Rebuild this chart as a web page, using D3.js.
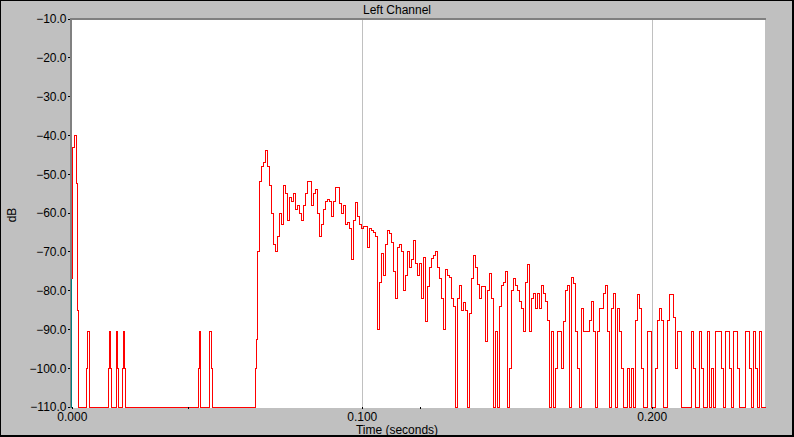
<!DOCTYPE html>
<html><head><meta charset="utf-8">
<script src="https://cdn.jsdelivr.net/npm/d3@7"></script>
<style>
html,body{margin:0;padding:0;background:#c0c0c0;}
svg{display:block;}
text{font-family:Arial,"Liberation Sans",sans-serif;font-size:12px;fill:#000;}
</style>
</head><body>
<svg id="chart" width="794" height="437"></svg>
<script>
// ---------- data ----------
const chartTitle = "Left Channel";
const xAxisTitle = "Time (seconds)";
const yAxisTitle = "dB";
const yTickValues = [-110, -100, -90, -80, -70, -60, -50, -40, -30, -20, -10];
const xTickValues = [0, 0.1, 0.2];
const xMinorTickValues = [0.04, 0.12];
const xGridValues = [0.1, 0.2];

// pre-arrival part: step breakpoints (ms, dB)
const onsetMs = [0, 0.14, 0.59, 1.28, 1.62, 1.72, 2.07,
  4.79, 5.07, 6.0,
  12.55, 12.76, 13.24, 13.45,
  15.41, 15.76, 16.0,
  17.38, 17.59, 18.07, 18.28,
  43.69, 44.03, 44.38,
  47.24, 47.48, 48.07, 48.41,
  63.1, 63.45];
const onsetDb = [-76.8, -43, -40.1, -43.6, -52.3, -85.2, -110,
  -100, -90.5, -110,
  -100, -90.5, -100, -110,
  -90.5, -100, -110,
  -100, -90.5, -100, -110,
  -100, -90.5, -110,
  -100, -90.5, -100, -110,
  -100, -92.5];

// arrival and decay: level per analysis frame
const frameStartMs = 63.8;
const frameMs = 0.69;
const frameDb = [
  -70, -52, -48, -47, -44, -48, -53, -60, -68, -70,
  -66, -60, -63, -53, -55, -62, -56, -57, -55, -59,
  -58, -60, -62, -58, -55, -52, -52, -58, -55, -54,
  -60, -66, -63, -59, -57, -56.5, -57, -61, -57, -53.5,
  -53.5, -57.5, -60, -58, -63, -62.5, -64, -72, -62, -57.3,
  -61, -63, -64, -63.5, -63.5, -69, -64, -64.5, -65, -66,
  -90, -78, -70.5, -76, -68, -64.5, -65.2, -67.5, -75, -82,
  -69, -68, -70, -80, -76, -70, -74, -72, -67, -73,
  -76, -73, -82, -71.5, -88, -79, -74, -71.6, -71, -70,
  -74, -77, -82, -90, -74.5, -76, -76.5, -82, -84, -110,
  -82, -78.6, -85, -83, -85, -110, -86, -77, -71, -74,
  -78.5, -82, -79, -79, -93, -80, -75.5, -82, -110, -90.5,
  -110, -84, -78.6, -78, -75.2, -110, -100, -80, -77, -78.6,
  -80, -82.9, -84.6, -90.5, -78, -73.4, -90.5, -82, -80.7, -84.6,
  -80.7, -84.6, -78.6, -80.7, -82.9, -87.6, -110, -90.5, -110, -100,
  -90.5, -90.5, -100, -88, -80, -78.6, -110, -76.5, -78.2, -90.5,
  -100, -110, -84.6, -90.5, -90.5, -90.5, -87.6, -82.9, -90.5, -110,
  -90.5, -84.6, -84.6, -80.7, -78.6, -90.5, -110, -84.6, -80.7, -110,
  -84.6, -90.5, -100, -110, -110, -100, -110, -100, -110, -87.6,
  -81, -84.7, -100, -110, -110, -90.5, -90.5, -110, -110, -100,
  -87.7, -84.7, -87.7, -110, -110, -87.7, -81, -81, -87, -100,
  -90.5, -90.5, -110, -110, -110, -110, -110, -90.5, -100, -110,
  -110, -90.5, -100, -110, -110, -90.5, -110, -100, -110, -90.5,
  -90.5, -90.5, -100, -110, -90.5, -90.5, -100, -110, -90.5, -90.5,
  -100, -110, -110, -110, -90.5, -90.5, -100, -110, -90.5, -100,
  -110, -90.5, -110, -110
];

// other channel trace visible at the left edge
const otherChannelMs = [0, 0];
const otherChannelDb = [-76.8, -110];

// ---------- layout ----------
const W = 794, H = 437;
const plot = {left: 72.3, right: 765, top: 19, bottom: 407};
const xMax = 0.2389;
const RED = "rgb(255,0,0)";

const svg = d3.select("#chart");
const x = d3.scaleLinear().domain([0, xMax]).range([plot.left, plot.right]);
const y = d3.scaleLinear().domain([-110, -10]).range([plot.bottom, plot.top]);
const px = v => Math.floor(x(v)) + 0.5;
const py = v => Math.floor(y(v)) + 0.5;

svg.append("rect").attr("x", 0).attr("y", 0).attr("width", W).attr("height", H).attr("fill", "#c0c0c0");

// plot background
svg.append("rect")
  .attr("x", 72).attr("y", 20)
  .attr("width", 765 - 72).attr("height", 408 - 20)
  .attr("fill", "#ffffff");

// gridlines
svg.selectAll("line.hgrid").data(yTickValues.filter(v => v > -10))
  .join("line").attr("class", "hgrid")
  .attr("shape-rendering", "crispEdges")
  .attr("x1", 72).attr("x2", 765)
  .attr("y1", d => py(d)).attr("y2", d => py(d))
  .attr("stroke", "#c0c0c0").attr("stroke-width", 1);

svg.selectAll("line.vgrid").data(xGridValues)
  .join("line").attr("class", "vgrid")
  .attr("shape-rendering", "crispEdges")
  .attr("x1", d => px(d)).attr("x2", d => px(d))
  .attr("y1", 20).attr("y2", 408)
  .attr("stroke", "#c0c0c0").attr("stroke-width", 1);

// borders (sunken look)
svg.append("rect").attr("x", 70).attr("y", 18).attr("width", 766 - 70).attr("height", 2).attr("fill", "#808080");
svg.append("rect").attr("x", 70).attr("y", 18).attr("width", 2).attr("height", 408 - 18).attr("fill", "#808080");

// other channel
svg.append("line")
  .attr("shape-rendering", "crispEdges")
  .attr("x1", px(otherChannelMs[0] / 1000) - 1).attr("x2", px(otherChannelMs[1] / 1000) - 1)
  .attr("y1", py(otherChannelDb[0])).attr("y2", py(otherChannelDb[1]))
  .attr("stroke", "#008080").attr("stroke-width", 1);

// build series
const points = [];
onsetMs.forEach((t, i) => points.push([t / 1000, onsetDb[i]]));
frameDb.forEach((v, i) => points.push([(frameStartMs + i * frameMs) / 1000, v]));
points.push([xMax, frameDb[frameDb.length - 1]]);

// step segments: horizontal hold then vertical jump
const segments = [];
for (let i = 0; i < points.length - 1; i++) {
  const a = points[i], b = points[i + 1];
  segments.push({x1: a[0], y1: a[1], x2: b[0], y2: a[1]});
  if (b[1] !== a[1]) segments.push({x1: b[0], y1: a[1], x2: b[0], y2: b[1]});
}

svg.append("g").attr("class", "trace")
  .selectAll("line").data(segments).join("line")
  .attr("shape-rendering", "crispEdges")
  .attr("x1", d => px(d.x1)).attr("x2", d => px(d.x2))
  .attr("y1", d => py(d.y1)).attr("y2", d => py(d.y2))
  .attr("stroke", RED).attr("stroke-width", 1)
  .attr("stroke-linecap", "square");

// y axis ticks & labels
svg.selectAll("line.ytick").data(yTickValues).join("line").attr("class", "ytick")
  .attr("shape-rendering", "crispEdges")
  .attr("x1", 68).attr("x2", 70)
  .attr("y1", d => py(d)).attr("y2", d => py(d))
  .attr("stroke", "#000");
svg.selectAll("text.ylab").data(yTickValues).join("text").attr("class", "ylab")
  .attr("x", 66.5).attr("y", d => y(d) + 4.3)
  .attr("text-anchor", "end")
  .text(d => d3.format(".1f")(d));

// x axis ticks & labels
svg.selectAll("line.xtick").data(xTickValues.concat(xMinorTickValues)).join("line").attr("class", "xtick")
  .attr("shape-rendering", "crispEdges")
  .attr("x1", d => px(d)).attr("x2", d => px(d))
  .attr("y1", 407).attr("y2", 409)
  .attr("stroke", "#000");
svg.selectAll("text.xlab").data(xTickValues).join("text").attr("class", "xlab")
  .attr("x", d => x(d)).attr("y", 420.5)
  .attr("text-anchor", "middle")
  .text(d => d3.format(".3f")(d));

// titles
svg.append("text").attr("x", 397).attr("y", 13.5).attr("text-anchor", "middle").text(chartTitle);
svg.append("text").attr("x", 397).attr("y", 433.5).attr("text-anchor", "middle").text(xAxisTitle);
svg.append("text").attr("transform", "translate(16,215) rotate(-90)").attr("text-anchor", "middle").text(yAxisTitle);

// outer frame
svg.append("rect").attr("x", 0).attr("y", 0).attr("width", W).attr("height", 1).attr("fill", "#000");
svg.append("rect").attr("x", 0).attr("y", 0).attr("width", 1).attr("height", H).attr("fill", "#000");
svg.append("rect").attr("x", W - 2).attr("y", 0).attr("width", 2).attr("height", H).attr("fill", "#000");
svg.append("rect").attr("x", 0).attr("y", H - 2).attr("width", W).attr("height", 2).attr("fill", "#000");
</script>
</body></html>
